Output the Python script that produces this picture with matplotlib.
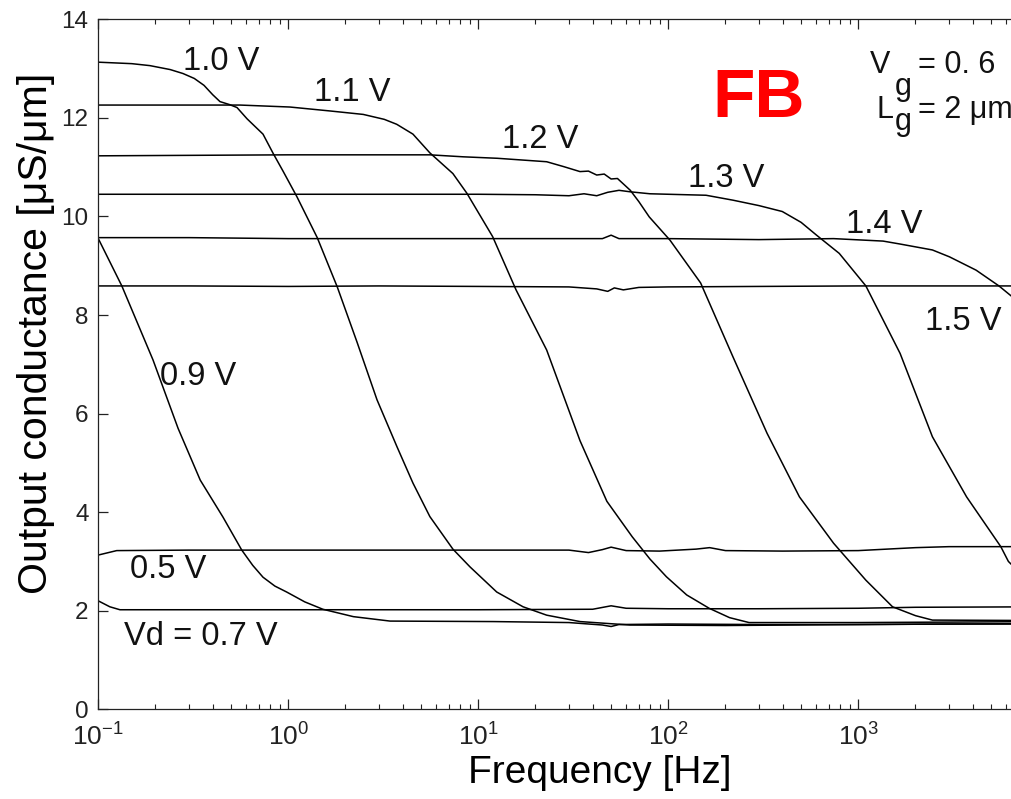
import matplotlib
matplotlib.use("Agg")
import matplotlib.pyplot as plt
from matplotlib.ticker import LogLocator, FixedLocator

plt.rcParams['font.family'] = ['Liberation Sans', 'DejaVu Sans']
plt.rcParams['mathtext.fontset'] = 'custom'
plt.rcParams['mathtext.rm'] = 'Liberation Sans'
plt.rcParams['mathtext.it'] = 'Liberation Sans:italic'
plt.rcParams['mathtext.bf'] = 'Liberation Sans:bold'
plt.rcParams['axes.unicode_minus'] = False

# ---- data (frequency in Hz, output conductance in uS/um) ----
f05 = [0.1, 0.125, 0.3, 1, 3, 10, 30, 38, 45, 50, 60, 90, 140, 165, 200, 400, 1000, 2000, 3000, 10000]
g05 = [3.13, 3.22, 3.23, 3.23, 3.23, 3.23, 3.23, 3.18, 3.24, 3.29, 3.22, 3.21, 3.25, 3.28, 3.22, 3.21, 3.22, 3.28, 3.30, 3.30]

f07 = [0.1, 0.115, 0.13, 1, 10, 40, 50, 60, 100, 300, 1000, 2000, 10000]
g07 = [2.20, 2.08, 2.02, 2.02, 2.02, 2.03, 2.10, 2.05, 2.04, 2.04, 2.05, 2.07, 2.08]

f09 = [0.1, 0.133, 0.194, 0.263, 0.344, 0.453, 0.569, 0.65, 0.736, 0.85, 0.98, 1.22, 1.52, 2.2, 3.43, 12, 30,
       45, 50, 55, 100, 300, 1000, 3000, 10000]
g09 = [9.55, 8.59, 7.09, 5.70, 4.65, 3.90, 3.23, 2.92, 2.68, 2.50, 2.38, 2.18, 2.03, 1.88, 1.79, 1.78, 1.76,
       1.71, 1.68, 1.72, 1.73, 1.72, 1.72, 1.73, 1.73]

f10 = [0.1, 0.15, 0.187, 0.239, 0.279, 0.32, 0.36, 0.40, 0.437, 0.49, 0.537, 0.607, 0.736, 0.832, 0.938, 1.11,
       1.42, 1.81, 2.30, 2.93, 3.73, 4.53, 5.56, 7.35, 9.04, 12.5, 17.2, 22.9, 34.3, 62.8, 200, 1000, 10000]
g10 = [13.13, 13.10, 13.06, 12.98, 12.90, 12.80, 12.66, 12.47, 12.33, 12.27, 12.21, 11.98, 11.67, 11.28, 10.92, 10.40,
       9.57, 8.57, 7.45, 6.28, 5.33, 4.59, 3.91, 3.25, 2.89, 2.38, 2.08, 1.91, 1.78, 1.71, 1.70, 1.72, 1.74]

f11 = [0.1, 0.557, 1.02, 1.66, 2.48, 3.2, 3.72, 4.53, 5.56, 7.35, 8.71, 11.9, 15.8, 22.9, 34.3, 47.5, 64.6,
       80, 97.7, 125, 164, 210, 266, 1000, 10000]
g11 = [12.26, 12.26, 12.22, 12.14, 12.07, 11.97, 11.87, 11.67, 11.29, 10.87, 10.47, 9.59, 8.51, 7.29, 5.45, 4.22, 3.50,
       3.05, 2.69, 2.32, 2.05, 1.86, 1.76, 1.76, 1.78]

f12 = [0.1, 1, 5.56, 8.32, 12.6, 22.9, 28.2, 34.3, 38, 42, 46, 50, 54, 58, 63.1, 70, 79.4, 102, 148, 219, 331,
       490, 741, 1096, 1514, 2000, 2455, 10000]
g12 = [11.23, 11.25, 11.25, 11.21, 11.18, 11.11, 11.01, 10.91, 10.92, 10.84, 10.86, 10.76, 10.77, 10.66, 10.53,
       10.30, 9.99, 9.52, 8.65, 7.15, 5.60, 4.31, 3.37, 2.62, 2.08, 1.90, 1.81, 1.80]

f13 = [0.1, 1, 10, 20, 30, 36, 42, 48, 55, 63, 80, 100, 158, 219, 300, 398, 500, 603, 794, 1096, 1660, 2455,
       3715, 5623, 6166, 10000]
g13 = [10.45, 10.45, 10.45, 10.44, 10.42, 10.46, 10.42, 10.49, 10.53, 10.50, 10.46, 10.45, 10.43, 10.33,
       10.22, 10.10, 9.88, 9.62, 9.25, 8.59, 7.22, 5.53, 4.31, 3.30, 3.00, 2.20]

f14 = [0.1, 0.3, 1, 5, 10, 45, 50, 55, 100, 300, 741, 1350, 1660, 2455, 3020, 4169, 5500, 6457, 10000]
g14 = [9.57, 9.57, 9.55, 9.55, 9.55, 9.55, 9.62, 9.55, 9.55, 9.53, 9.55, 9.50, 9.44, 9.32, 9.18, 8.91,
       8.59, 8.37, 7.40]

f15 = [0.1, 0.3, 1, 3, 10, 30, 42, 48, 52, 58, 70, 100, 300, 1000, 10000]
g15 = [8.59, 8.59, 8.58, 8.59, 8.58, 8.57, 8.53, 8.48, 8.55, 8.51, 8.56, 8.57, 8.58, 8.59, 8.59]

series = [(f05, g05), (f07, g07), (f09, g09), (f10, g10), (f11, g11),
          (f12, g12), (f13, g13), (f14, g14), (f15, g15)]

labels = ["0.5 V", "Vd = 0.7 V", "0.9 V", "1.0 V", "1.1 V", "1.2 V", "1.3 V", "1.4 V", "1.5 V"]

xticks = [0.1, 1, 10, 100, 1000]
xticklabels = [r"$10^{-1}$", r"$10^{0}$", r"$10^{1}$", r"$10^{2}$", r"$10^{3}$"]
yticks = [0, 2, 4, 6, 8, 10, 12, 14]

# ---- figure ----
W, H = 1012, 799
fig = plt.figure(figsize=(W / 100, H / 100), dpi=100)
left_px, bottom_px, top_px = 98.3, 709.3, 19.3
dec_px = 190.0
ax = fig.add_axes([left_px / W, (H - bottom_px) / H, 5 * dec_px / W, (bottom_px - top_px) / H])

for f, g in series:
    ax.plot(f, g, color='black', lw=1.1)

ax.set_xscale('log')
ax.set_xlim(0.1, 1e4)
ax.set_ylim(0, 14)
ax.xaxis.set_major_locator(FixedLocator(xticks))
ax.set_xticklabels(xticklabels)
ax.xaxis.set_minor_locator(LogLocator(base=10, subs=range(2, 10), numticks=50))
ax.set_yticks(yticks)
ax.set_yticklabels([str(v) for v in yticks])

ax.tick_params(which='both', direction='in', top=True, right=False, colors='#222222')
ax.tick_params(which='major', length=7, width=0.9)
ax.tick_params(axis='x', which='major', labelsize=19, pad=10)
ax.tick_params(axis='y', which='major', labelsize=17.5, pad=7)
ax.tick_params(which='minor', length=3.8, width=0.8)
for s in ['left', 'bottom', 'top']:
    ax.spines[s].set_linewidth(0.9)
    ax.spines[s].set_color('#222222')
ax.spines['right'].set_visible(False)

ax.set_xlabel("Frequency [Hz]", fontsize=28)
ax.xaxis.set_label_coords(0.528, -0.066)
ax.set_ylabel("Output conductance [μS/μm]", fontsize=29.5)
ax.yaxis.set_label_coords(-0.046, 0.545)

# curve labels (centre x in Hz, baseline y)
lab_pos = {"1.0 V": (0.445, 12.97), "1.1 V": (2.17, 12.34), "1.2 V": (21.1, 11.38),
           "1.3 V": (201, 10.60), "1.4 V": (1374, 9.66), "1.5 V": (3581, 7.70),
           "0.9 V": (0.337, 6.58), "0.5 V": (0.234, 2.66), "Vd = 0.7 V": (0.347, 1.30)}
for lab in labels:
    x, y = lab_pos[lab]
    ax.text(x, y, lab, fontsize=23.5, ha='center', va='baseline', color='#111111')

ax.text(298.5, 12.01, "FB", fontsize=50, fontweight='bold', color='#ff0000', ha='center', va='baseline')

# gate annotation, with full-size lowered "g" as in the original
ann = dict(fontsize=22, ha='left', va='baseline', color='#111111')
ax.text(1152, 12.91, "V", **ann)
ax.text(1560, 12.46, "g", **ann)
ax.text(2062, 12.91, "= 0. 6", **ann)
ax.text(1253, 12.00, "L", **ann)
ax.text(1560, 11.75, "g", **ann)
ax.text(2062, 12.00, "= 2 μm", **ann)

fig.savefig("out.png", dpi=100)
